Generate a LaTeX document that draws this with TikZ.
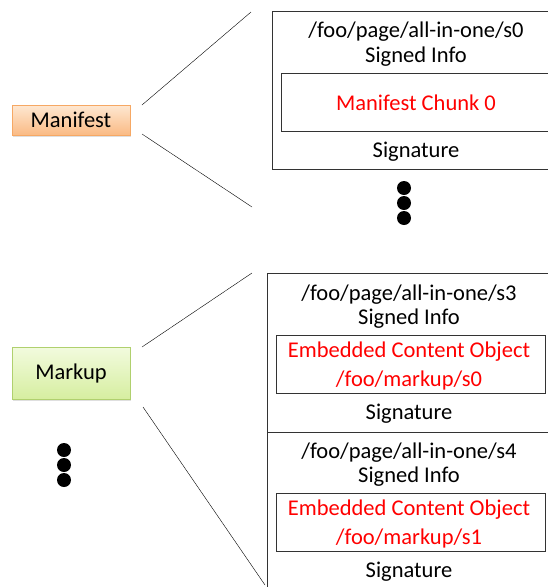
\documentclass[tikz,border=0pt]{standalone}
\usepackage{fontspec}
\setmainfont{Carlito}
\usepackage{xcolor}
\usepackage{tikz}
\usetikzlibrary{shadows}
\definecolor{mforange}{RGB}{246,168,100}
\definecolor{mforangetop}{RGB}{254,232,210}
\definecolor{mforangebot}{RGB}{250,186,132}
\definecolor{mkgreen}{RGB}{176,208,110}
\definecolor{mkgreentop}{RGB}{242,251,222}
\definecolor{mkgreenbot}{RGB}{214,238,160}
\definecolor{chunkred}{RGB}{255,0,0}

\tikzset{
  stream/.style={draw=#1, line width=0.8pt, minimum width=118pt,
    drop shadow={opacity=0.25, shadow xshift=1.2pt, shadow yshift=-1.5pt}},
  segbox/.style={draw=black!80, line width=0.8pt, anchor=north west, inner sep=0pt},
  chunkbox/.style={draw=black!80, line width=0.8pt, anchor=north west, inner sep=0pt,
    fill=white, drop shadow={opacity=0.25, shadow xshift=1pt, shadow yshift=-1pt}},
  lbl/.style={inner sep=0pt},
  redlbl/.style={inner sep=0pt, text=chunkred},
}

\begin{document}
\begin{tikzpicture}[x=1pt,y=-1pt,font=\fontsize{22.5}{27}\selectfont]
\useasboundingbox (0,0) rectangle (548,587);
\clip (0,0) rectangle (548,587);

% manifest side
\node[stream=mforange, top color=mforangetop, bottom color=mforangebot,
  minimum height=30pt] (manifest) at (71,120) {Manifest};
\node[segbox, minimum width=290pt, minimum height=158pt] (seg0) at (272,11) {};
\node[chunkbox, minimum width=280pt, minimum height=58pt] (chunk0) at (281,73) {};
\node[lbl] (name0) at (416,32) {/foo/page/all-in-one/s0};
\node[lbl] (info0) at (416,57) {Signed Info};
\node[redlbl] (mc0) at (416,103) {Manifest Chunk 0};
\node[lbl] (sig0) at (416,152) {Signature};
\fill (404,188) circle (7);
\fill (404,203) circle (7);
\fill (404,218) circle (7);
\coordinate (mtop) at (251,12);
\coordinate (mbot) at (252,207);
\draw (142,105) -- (mtop);
\draw (142,134) -- (mbot);

% markup side
\node[stream=mkgreen, top color=mkgreentop, bottom color=mkgreenbot,
  minimum height=52pt] (markup) at (71,373) {Markup};
\node[segbox, minimum width=290pt, minimum height=159pt] (seg3) at (267,273) {};
\node[segbox, minimum width=290pt, minimum height=170pt] (seg4) at (267,432) {};
\node[chunkbox, minimum width=269pt, minimum height=58pt] (eco0) at (276,335) {};
\node[chunkbox, minimum width=269pt, minimum height=58pt] (eco1) at (276,493) {};
\node[lbl] (name3) at (409,295) {/foo/page/all-in-one/s3};
\node[lbl] (info3) at (409,319) {Signed Info};
\node[redlbl] (ecoa0) at (409,352) {Embedded Content Object};
\node[redlbl] (ecob0) at (409,380) {/foo/markup/s0};
\node[lbl] (sig3) at (409,414) {Signature};
\node[lbl] (name4) at (409,453) {/foo/page/all-in-one/s4};
\node[lbl] (info4) at (409,477) {Signed Info};
\node[redlbl] (ecoa1) at (409,510) {Embedded Content Object};
\node[redlbl] (ecob1) at (409,538) {/foo/markup/s1};
\node[lbl] (sig4) at (409,572) {Signature};
\fill (64,450) circle (7);
\fill (64,465) circle (7);
\fill (64,480) circle (7);
\coordinate (ktop) at (252,273);
\coordinate (kbot) at (265,585);
\draw (142,347) -- (ktop);
\draw (143,407) -- (kbot);
\end{tikzpicture}
\end{document}
